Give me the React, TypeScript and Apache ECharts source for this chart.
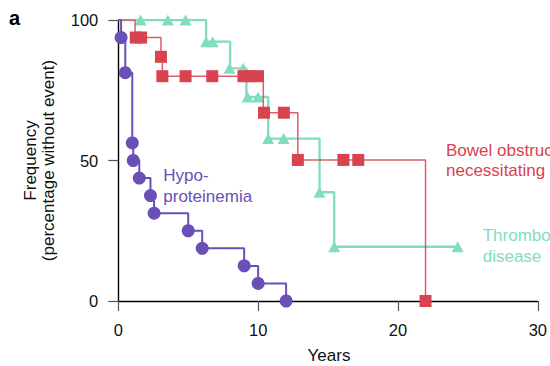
import React, { useEffect, useRef } from "react";
import * as echarts from "echarts";

// Kaplan–Meier step curves (time in years, % without event)
const hypoTimes = [0, 0.2, 0.5, 1.0, 1.07, 1.5, 2.3, 2.56, 5.0, 6.0, 9.0, 10.0, 12.0];
const hypoSurv = [100, 93.75, 81.25, 56.25, 50, 43.75, 37.5, 31.25, 25, 18.75, 12.5, 6.25, 0];
const hypoMarkTimes = [0.2, 0.5, 1.0, 1.07, 1.5, 2.3, 2.56, 5.0, 6.0, 9.0, 10.0, 12.0];
const hypoMarkSurv = [93.75, 81.25, 56.25, 50, 43.75, 37.5, 31.25, 25, 18.75, 12.5, 6.25, 0];

const bowelTimes = [0, 1.2, 3.05, 3.15, 10.37, 12.84, 21.97];
const bowelSurv = [100, 93.75, 86.9, 80, 67.0, 50.2, 0];
const bowelMarkTimes = [1.25, 1.63, 3.05, 3.15, 4.81, 6.72, 8.95, 9.46, 9.99, 10.42, 11.84, 12.84, 16.1, 17.16, 21.97];
const bowelMarkSurv = [93.75, 93.75, 86.9, 80, 80, 80, 80, 80, 80, 67, 67, 50.2, 50.2, 50.2, 0];

const thromboTimes = [0, 6.28, 8.0, 9.16, 10.72, 14.39, 15.44, 24.27];
const thromboSurv = [100, 92.3, 82.8, 72.6, 57.8, 38.7, 19.3, 19.3];
const thromboMarkTimes = [1.59, 3.55, 4.81, 6.28, 6.75, 7.95, 8.93, 9.25, 10.0, 10.72, 11.82, 14.39, 15.44, 24.27];
const thromboMarkSurv = [100, 100, 100, 92.3, 92.3, 82.8, 82.8, 72.6, 72.6, 57.8, 57.8, 38.7, 19.3, 19.3];

const xTicks = [0, 10, 20, 30];
const yTicks = [0, 50, 100];

const PURPLE = "#6a50b6";
const RED = "#d9424f";
const TEAL = "#80ddc0";
const FONT = "Liberation Sans, Arial, Helvetica, sans-serif";

const zip = (a: number[], b: number[]) => a.map((v, i) => [v, b[i]]);

export default function App() {
  const ref = useRef<HTMLDivElement>(null);
  useEffect(() => {
    if (!ref.current) return;
    const chart = echarts.init(ref.current, undefined, { renderer: "svg" });
    chart.setOption({
      animation: false,
      grid: { left: 118.3, right: 9.3, top: 20, bottom: 65 },
      xAxis: {
        type: "value",
        min: xTicks[0],
        max: xTicks[xTicks.length - 1],
        interval: 10,
        splitLine: { show: false },
        axisLine: { lineStyle: { color: "#000", width: 1.4 } },
        axisTick: { length: 10, lineStyle: { color: "#555", width: 1.2 } },
        axisLabel: { margin: 20, fontSize: 16.5, color: "#111", fontFamily: FONT },
      },
      yAxis: {
        type: "value",
        min: yTicks[0],
        max: yTicks[yTicks.length - 1],
        interval: 50,
        splitLine: { show: false },
        axisLine: { show: true, lineStyle: { color: "#000", width: 1.4 } },
        axisTick: { show: true, length: 10, lineStyle: { color: "#555", width: 1.2 } },
        axisLabel: { margin: 20, fontSize: 16.5, color: "#111", fontFamily: FONT },
      },
      series: [
        {
          type: "line", step: "end", showSymbol: false, symbol: "none",
          data: zip(thromboTimes, thromboSurv),
          lineStyle: { color: TEAL, width: 2.3 }, z: 2,
        },
        {
          type: "scatter", data: zip(thromboMarkTimes, thromboMarkSurv),
          symbol: "triangle", symbolSize: [12, 11], clip: false,
          itemStyle: { color: TEAL, opacity: 1 }, z: 3,
        },
        {
          type: "line", step: "end", showSymbol: false, symbol: "none",
          data: zip(bowelTimes, bowelSurv),
          lineStyle: { color: RED, width: 1.5, opacity: 0.85 }, z: 4,
        },
        {
          type: "scatter", data: zip(bowelMarkTimes, bowelMarkSurv),
          symbol: "rect", symbolSize: 12, clip: false,
          itemStyle: { color: RED, opacity: 1 }, z: 5,
        },
        {
          type: "line", step: "end", showSymbol: false, symbol: "none",
          data: zip(hypoTimes, hypoSurv),
          lineStyle: { color: PURPLE, width: 2 }, z: 6,
        },
        {
          type: "scatter", data: zip(hypoMarkTimes, hypoMarkSurv),
          symbol: "circle", symbolSize: 13, clip: false,
          itemStyle: { color: PURPLE, opacity: 1 }, z: 7,
        },
      ],
      graphic: [
        {
          type: "text", left: 9, top: 8,
          style: { text: "a", font: `bold 20px ${FONT}`, fill: "#000" },
        },
        {
          type: "text", x: 39, y: 160.5, rotation: Math.PI / 2,
          style: {
            text: "Frequency\n(percentage without event)",
            font: `17px ${FONT}`, fill: "#111", lineHeight: 18,
            align: "center", verticalAlign: "middle",
          },
        },
        {
          type: "text", x: 329, y: 355,
          style: { text: "Years", font: `17px ${FONT}`, fill: "#111", align: "center", verticalAlign: "middle" },
        },
        {
          type: "text", x: 163.3, y: 186,
          style: { text: "Hypo-\nproteinemia", font: `17px ${FONT}`, fill: PURPLE, lineHeight: 20.5, align: "left", verticalAlign: "middle" },
        },
        {
          type: "text", x: 446, y: 160,
          style: { text: "Bowel obstruction\nnecessitating surgery", font: `17px ${FONT}`, fill: RED, lineHeight: 20, align: "left", verticalAlign: "middle" },
        },
        {
          type: "text", x: 482.7, y: 246,
          style: { text: "Thrombotic\ndisease", font: `17px ${FONT}`, fill: TEAL, lineHeight: 21, align: "left", verticalAlign: "middle" },
        },
      ],
    });
    return () => chart.dispose();
  }, []);
  return (
    <div
      ref={ref}
      style={{ position: "fixed", left: 0, top: 0, width: 550, height: 366, background: "#fff" }}
    />
  );
}
